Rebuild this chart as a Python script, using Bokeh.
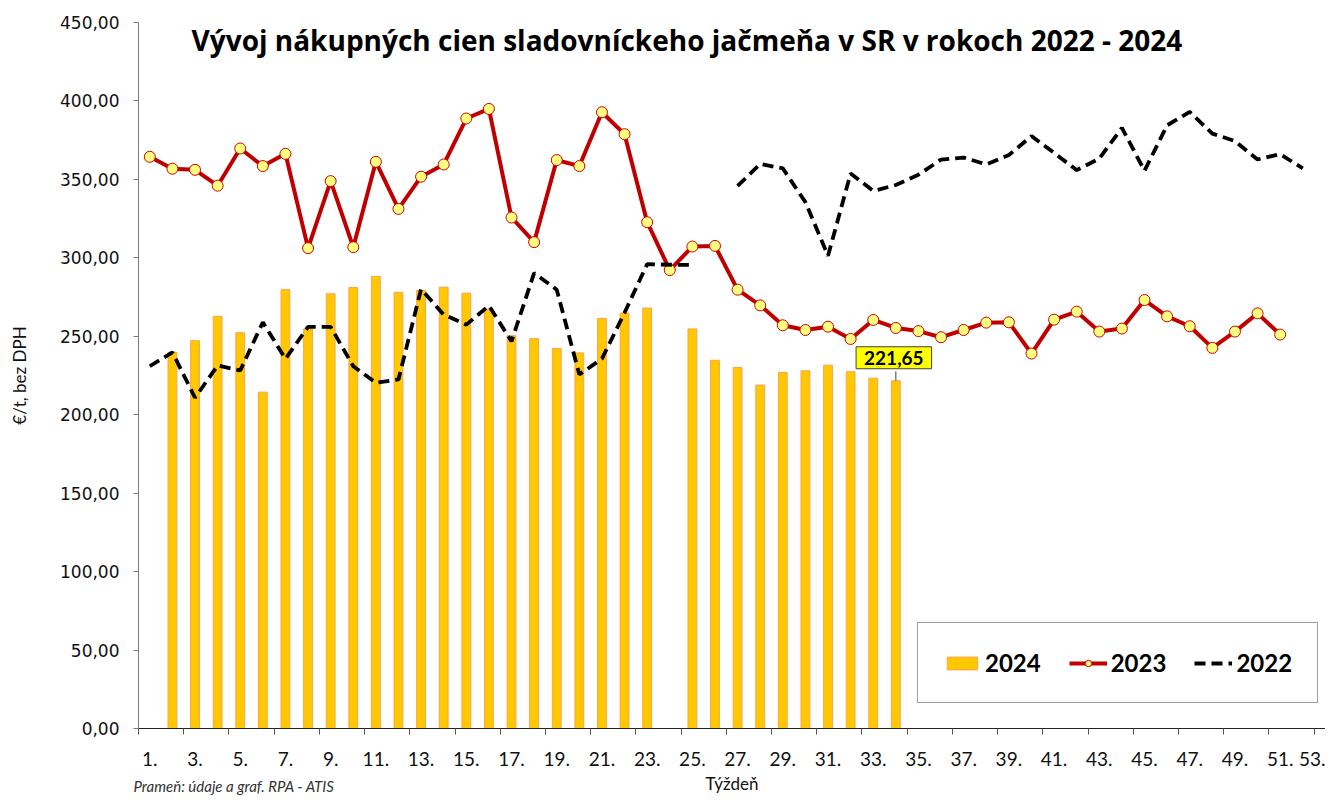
import numpy as np
from bokeh.plotting import figure
from bokeh.models import (Range1d, FixedTicker, CustomJSTickFormatter, Label,
                          Legend, LegendItem, ColumnDataSource)
from bokeh.embed import file_html
from bokeh.resources import INLINE

# ---------------- data ----------------
title_text = "Vývoj nákupných cien sladovníckeho jačmeňa v SR v rokoch 2022 - 2024"
y_title = "€/t, bez DPH"
x_title = "Týždeň"
source_text = "Prameň: údaje a graf. RPA - ATIS"

weeks = list(range(1, 54))
series_names = ["2024", "2023", "2022"]

# 2024 (weeks 1..34, None = no value)
price_2024 = [None, 239.8, 247.2, 262.7, 252.3, 214.4, 279.7, 254.7, 277.1, 281.1,
              288.1, 278.0, 279.2, 281.3, 277.5, 266.9, 250.4, 248.5, 242.2, 239.4,
              261.4, 264.8, 268.0, None, 254.7, 234.7, 230.1, 218.9, 226.9, 228.0,
              231.6, 227.4, 223.3, 221.65]

# 2023 (weeks 1..51)
price_2023 = [364.4, 356.8, 356.1, 346.0, 369.7, 358.5, 366.3, 306.2, 348.9, 306.8,
              361.2, 331.2, 351.7, 359.5, 388.8, 394.9, 325.7, 310.0, 362.3, 358.5,
              392.8, 378.8, 322.7, 292.2, 307.2, 307.6, 279.7, 269.7, 257.0, 254.0,
              256.1, 248.3, 260.4, 255.3, 253.3, 249.4, 254.0, 258.7, 258.9, 239.0,
              260.6, 265.7, 253.0, 254.9, 273.1, 262.7, 256.4, 242.6, 253.0, 264.6,
              251.1]

# 2022 (weeks 1..52)
price_2022 = [230.9, 239.8, 210.8, 231.4, 228.2, 258.9, 235.6, 256.0, 256.0, 230.9,
              220.3, 222.5, 280.1, 263.8, 257.4, 269.5, 246.8, 290.3, 279.7, 225.6,
              235.7, 265.0, 296.0, 295.6, 295.5, None, 345.8, 359.8, 357.0, 335.5,
              301.3, 353.8, 342.6, 346.4, 353.0, 362.6, 363.9, 359.5, 365.5, 377.6,
              366.9, 355.9, 363.3, 382.8, 355.5, 384.5, 393.0, 379.2, 374.4, 362.7,
              366.1, 357.0]

y_ticks = [0, 50, 100, 150, 200, 250, 300, 350, 400, 450]
x_label_weeks = list(range(1, 54, 2))

# ---------------- sources ----------------
bar_x = [w for w, v in zip(weeks, price_2024) if v is not None]
bar_top = [v for v in price_2024 if v is not None]
src24 = ColumnDataSource(dict(x=bar_x, top=bar_top))
src23 = ColumnDataSource(dict(x=weeks[:len(price_2023)], y=price_2023))
src22 = ColumnDataSource(dict(
    x=np.array(weeks[:len(price_2022)], dtype=float),
    y=np.array([np.nan if v is None else v for v in price_2022], dtype=float)))

LATO = "Lato"

p = figure(width=1325, height=796,
           x_range=Range1d(0.5, 53.005), y_range=Range1d(0, 450),
           output_backend="svg", toolbar_location=None, title=None,
           min_border_left=138, min_border_right=0,
           min_border_top=22, min_border_bottom=66)
p.outline_line_color = None
p.background_fill_color = "white"
p.border_fill_color = "white"
p.xgrid.visible = False
p.ygrid.visible = False

# bars 2024
r24 = p.vbar(x="x", top="top", width=0.39, bottom=0, source=src24,
             fill_color="#FFC800", line_color="#FFA24A", line_width=1)
# 2023 line + markers
r23l = p.line(x="x", y="y", source=src23, line_color="#C00000", line_width=4)
r23m = p.scatter(x="x", y="y", source=src23, marker="circle", size=11,
                 fill_color="#FFFF80", line_color="#D00000", line_width=1)
# 2022 dashed
r22 = p.line(x="x", y="y", source=src22, line_color="black", line_width=3.8,
             line_dash="11 6")

# ---------------- axes ----------------
yax = p.yaxis[0]
yax.ticker = FixedTicker(ticks=y_ticks)
yax.formatter = CustomJSTickFormatter(code="return tick.toFixed(2).replace('.', ',');")
yax.major_label_text_font = "DejaVu Sans"
yax.major_label_text_font_size = "17px"
yax.major_label_text_color = "#111111"
yax.major_tick_out = 5
yax.major_tick_in = 0
yax.minor_tick_line_color = None
yax.major_label_standoff = 14
yax.axis_line_color = "#7a7a7a"
yax.major_tick_line_color = "#7a7a7a"
yax.axis_label = y_title
yax.axis_label_text_font = LATO
yax.axis_label_text_font_style = "normal"
yax.axis_label_text_font_size = "17px"
yax.axis_label_text_color = "#111111"
yax.axis_label_standoff = 27

xax = p.xaxis[0]
xax.ticker = FixedTicker(ticks=x_label_weeks,
                         minor_ticks=[w - 0.5 for w in range(1, 54, 2)])
xax.formatter = CustomJSTickFormatter(code="return tick + '.';")
xax.major_label_text_font = LATO
xax.major_label_text_font_size = "19px"
xax.major_label_text_color = "#111111"
xax.major_tick_line_color = None
xax.major_tick_out = 0
xax.major_tick_in = 0
xax.minor_tick_line_color = "#555555"
xax.minor_tick_out = 6
xax.minor_tick_in = 0
xax.major_label_standoff = 17
xax.axis_line_color = "#222222"
xax.axis_label = x_title
xax.axis_label_text_font = LATO
xax.axis_label_text_font_style = "normal"
xax.axis_label_text_font_size = "17px"
xax.axis_label_text_color = "#111111"
xax.axis_label_standoff = 4

# ---------------- texts ----------------
p.add_layout(Label(x=24.76, y=438.6, text=title_text, text_align="center",
                   text_baseline="middle", text_font="Open Sans", text_font_style="bold",
                   text_font_size="28px", text_color="black"))

last_week = bar_x[-1]
last_val = bar_top[-1]
p.segment(x0=[last_week], y0=[last_val], x1=[last_week], y1=[last_val + 6.0],
          line_color="#404040", line_width=1)
p.add_layout(Label(x=last_week, y=last_val, x_offset=-2, y_offset=23,
                   text=f"{last_val:.2f}".replace(".", ","),
                   text_align="center", text_baseline="middle",
                   text_font=LATO, text_font_style="bold", text_font_size="19px",
                   text_color="black", background_fill_color="#FFFF00",
                   border_line_color="#404040", border_line_width=1, padding=(8, 4)))

# source note: hosted in the (otherwise empty) top side panel so it is not
# clipped to the frame; positioned in canvas units at the bottom-left corner
p.add_layout(Label(x=133, y=794, x_units="canvas", y_units="canvas", text=source_text,
                   text_align="left", text_baseline="bottom", text_font=LATO,
                   text_font_style="italic", text_font_size="15px",
                   text_color="#333333"), "above")

# ---------------- legend ----------------
legend = Legend(items=[LegendItem(label=series_names[0], renderers=[r24]),
                       LegendItem(label=series_names[1], renderers=[r23l, r23m]),
                       LegendItem(label=series_names[2], renderers=[r22])],
                orientation="horizontal", location=(779, 25))
legend.label_text_font = LATO
legend.label_text_font_style = "bold"
legend.label_text_font_size = "24px"
legend.label_text_color = "black"
legend.glyph_width = 38
legend.glyph_height = 16
legend.label_standoff = 4
legend.spacing = 28
legend.padding = 25
legend.margin = 0
legend.border_line_color = "#404040"
legend.border_line_width = 1
legend.background_fill_color = "white"
legend.background_fill_alpha = 1.0
p.add_layout(legend)

open("out.html", "w").write(file_html(p, INLINE))
